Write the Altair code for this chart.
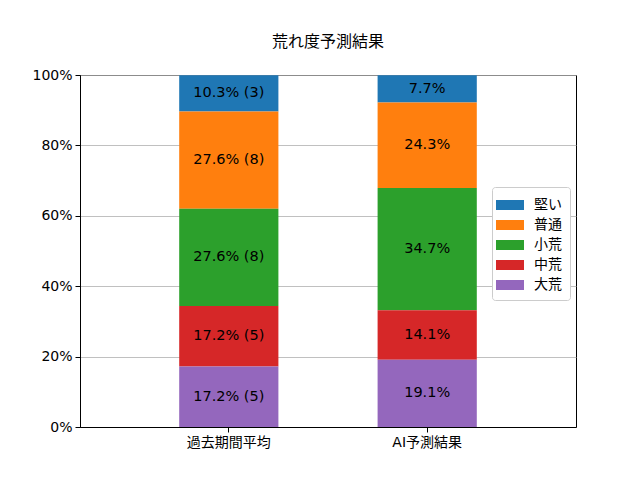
import altair as alt
import pandas as pd

categories = ["過去期間平均", "AI予測結果"]
levels = ["堅い", "普通", "小荒", "中荒", "大荒"]
colors = ["#1f77b4", "#ff7f0e", "#2ca02c", "#d62728", "#9467bd"]
past_pct = [10.3, 27.6, 27.6, 17.2, 17.2]
past_cnt = [3, 8, 8, 5, 5]
ai_pct = [7.7, 24.3, 34.7, 14.1, 19.1]
y_ticks = [0, 20, 40, 60, 80, 100]

rows = []
for cat, pcts, cnts in [(categories[0], past_pct, past_cnt), (categories[1], ai_pct, [None] * 5)]:
    for i, (lv, p, c) in enumerate(zip(levels, pcts, cnts)):
        label = f"{p:.1f}%" + (f" ({c})" if c is not None else "")
        rows.append({"cat": cat, "level": lv, "pct": p, "order": len(levels) - 1 - i, "label": label})
df = pd.DataFrame(rows)

FONT = "DejaVu Sans, Noto Sans CJK JP"

x_enc = alt.X(
    "cat:N",
    sort=categories,
    scale=alt.Scale(paddingInner=0.5, paddingOuter=0.5),
    axis=alt.Axis(title=None, labelAngle=0, labelFontSize=14, tickSize=5,
                  labelPadding=3, domainColor="black", tickColor="black",
                  labelColor="black", grid=False, labelFont=FONT),
)

base = alt.Chart(df)

bars = base.mark_bar().encode(
    x=x_enc,
    y=alt.Y("pct:Q", stack="zero",
            scale=alt.Scale(domain=[0, 100], nice=False),
            axis=alt.Axis(title=None, values=y_ticks, labelExpr="datum.value + '%'",
                          labelFontSize=14, tickSize=5, labelPadding=3,
                          domainColor="black", tickColor="black", labelColor="black",
                          grid=True, gridColor="#b0b0b0", gridWidth=0.8, labelFont=FONT)),
    color=alt.Color("level:N", scale=alt.Scale(domain=levels, range=colors),
                    legend=alt.Legend(title=None, orient="none", legendX=412, legendY=112,
                                      symbolType="M-1.4,-0.5H1.4V0.5H-1.4Z",
                                      symbolSize=400, symbolStrokeWidth=0,
                                      labelFontSize=14, labelFont=FONT, labelColor="black",
                                      strokeColor="#cccccc", fillColor="white",
                                      cornerRadius=3, padding=8, rowPadding=3,
                                      labelOffset=14)),
    order=alt.Order("order:Q"),
)

texts = base.transform_window(
    cum="sum(pct)", groupby=["cat"], sort=[alt.SortField("order")], frame=[None, 0]
).transform_calculate(
    mid="datum.cum - datum.pct / 2"
).mark_text(fontSize=14.5, color="black", font=FONT).encode(
    x=alt.X("cat:N", sort=categories),
    y=alt.Y("mid:Q"),
    text="label:N",
)

chart = alt.layer(bars, texts).properties(
    width=496,
    height=352,
    title=alt.TitleParams("荒れ度予測結果", fontSize=16, fontWeight="normal",
                          font=FONT, color="black", offset=18),
    autosize=alt.AutoSizeParams(type="none"),
    padding={"left": 72, "top": 67, "right": 50, "bottom": 40},
).configure_view(
    stroke="black", strokeWidth=1
)

chart.save("out.html", embed_options={"renderer": "svg", "actions": False})
